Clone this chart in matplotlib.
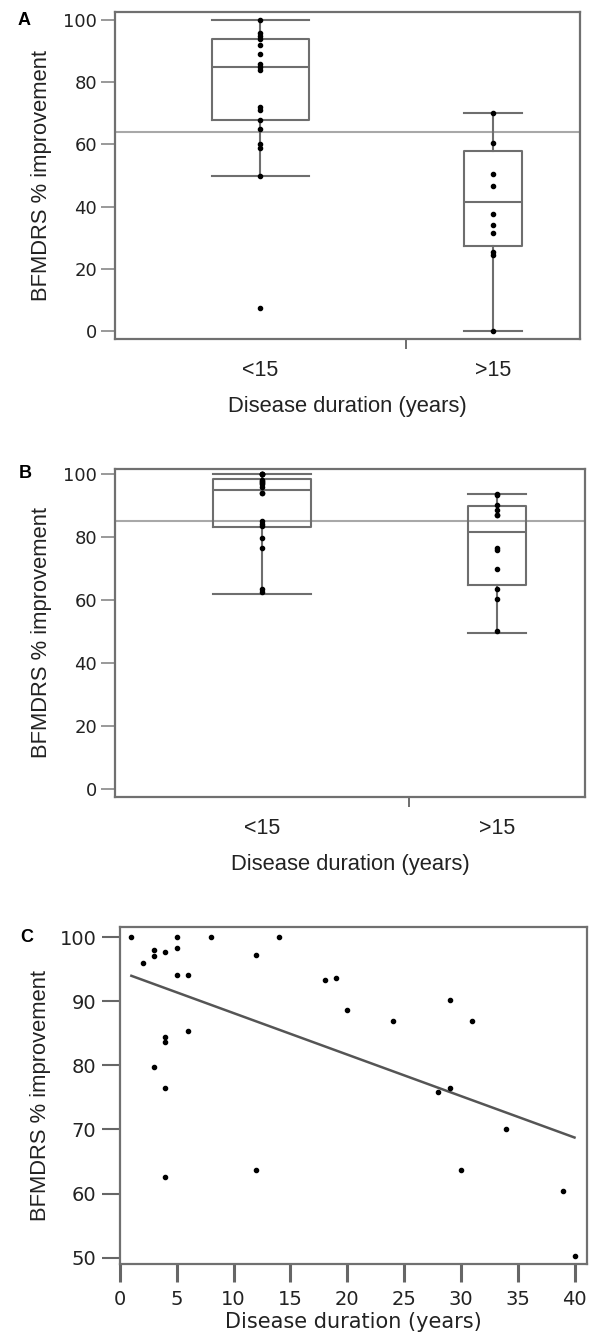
import numpy as np
import matplotlib
matplotlib.use("Agg")
import matplotlib.pyplot as plt

# ---------------- data ----------------
categories = ["<15", ">15"]
group_weights = [20, 12]          # JMP-style group widths (proportional to n)

# Panel A: BFMDRS % improvement (individual points)
a_lt15 = [100, 96, 95, 94, 92, 89, 86, 85, 84, 72, 71, 68, 65, 60, 59, 50, 7.5]
a_gt15 = [70, 60.5, 50.5, 46.5, 37.5, 34, 31.5, 25.5, 24.5, 0]
# box summaries (whislo, q1, med, q3, whishi)
a_box_lt15 = [50, 67.8, 85, 94, 100]
a_box_gt15 = [0, 27.3, 41.5, 58, 70]
a_grand_mean = 64

# Panel C: duration (years) vs improvement
duration = [1, 2, 3, 3, 4, 5, 5, 5, 6, 8, 14, 12, 6, 4, 4, 3, 4, 4, 12,
            18, 19, 20, 24, 29, 31, 28, 29, 34, 30, 39, 40]
improvement = [100, 96, 98, 97, 97.7, 100, 98.3, 94.1, 94.1, 100, 100, 97.3,
               85.3, 84.4, 83.6, 79.7, 76.5, 62.6, 63.6,
               93.4, 93.7, 88.7, 87, 90.2, 87, 75.9, 76.5, 70.1, 63.6, 60.4, 50.2]
threshold = 15
# Panel B box summaries (whislo, q1, med, q3, whishi)
b_box_lt15 = [62, 83.2, 95, 98.4, 100]
b_box_gt15 = [49.7, 64.9, 81.8, 89.9, 93.7]

# ---------------- style ----------------
FRAME = "#707070"
BOXC = "#6e6e6e"
MEANC = "#a8a8a8"
TXT = "#222222"
LABEL_FONT = ["Liberation Sans", "DejaVu Sans"]

fig = plt.figure(figsize=(5.91, 13.37), dpi=100)
W, H = 591, 1337


def add_axes_px(left, top, right, bottom):
    return fig.add_axes([left / W, 1 - bottom / H, (right - left) / W, (bottom - top) / H])


def style_frame(ax):
    for s in ax.spines.values():
        s.set_color(FRAME)
        s.set_linewidth(1.6)


def box_panel(ax, pts, boxes, grand_mean, ylim, letter):
    tot = sum(group_weights)
    edges = np.concatenate([[0], np.cumsum(group_weights) / tot])
    centers = (edges[:-1] + edges[1:]) / 2
    widths = np.diff(edges) / 3
    stats = []
    for b in boxes:
        stats.append(dict(whislo=b[0], q1=b[1], med=b[2], q3=b[3], whishi=b[4]))
    lp = dict(color=BOXC, linewidth=1.5)
    ax.bxp(stats, positions=centers, widths=widths, capwidths=widths,
           showfliers=False, boxprops=lp, whiskerprops=lp, capprops=lp,
           medianprops=lp, manage_ticks=False)
    ax.axhline(grand_mean, color=MEANC, lw=1.5, zorder=1)
    for c, p in zip(centers, pts):
        ax.plot(np.full(len(p), c), p, "o", ms=3.0, color="black", mec="black", zorder=5)
    ax.set_xlim(0, 1)
    ax.set_ylim(*ylim)
    ax.set_yticks([0, 20, 40, 60, 80, 100])
    ax.tick_params(axis="y", length=10, width=1.2, color="#888888", pad=3,
                   labelsize=13, labelcolor=TXT)
    ax.set_xticks([edges[1]])
    ax.set_xticklabels([""])
    ax.tick_params(axis="x", which="major", length=7, width=1.2, color="#555555")
    ax.set_xticks(centers, minor=True)
    ax.set_xticklabels(categories, minor=True)
    ax.tick_params(axis="x", which="minor", length=0, pad=15, labelsize=15.5,
                   labelcolor=TXT)
    for t in ax.get_xticklabels(minor=True):
        t.set_family(LABEL_FONT)
    ax.set_xlabel("Disease duration (years)", family=LABEL_FONT, fontsize=15.8,
                  color=TXT, labelpad=11)
    ax.set_ylabel("BFMDRS % improvement", family=LABEL_FONT, fontsize=15.8,
                  color=TXT, labelpad=8)
    style_frame(ax)
    ax.text(-0.195, 0.975, letter, transform=ax.transAxes, fontsize=13,
            fontweight="bold", family=LABEL_FONT, ha="center", va="center")


# Panel A
axA = add_axes_px(115, 12, 580, 339)
box_panel(axA, [a_lt15, a_gt15], [a_box_lt15, a_box_gt15], a_grand_mean,
          (-2.6, 102.6), "A")

# Panel B (same patients as C, split by duration threshold)
dur = np.array(duration, dtype=float)
imp = np.array(improvement, dtype=float)
b_lt15 = imp[dur < threshold]
b_gt15 = imp[dur >= threshold]
axB = add_axes_px(115, 469, 585, 797)
box_panel(axB, [b_lt15, b_gt15], [b_box_lt15, b_box_gt15], imp.mean(),
          (-2.4, 101.7), "B")
axB.texts[0].set_position((-0.19, 0.985))

# Panel C
axC = add_axes_px(120, 927, 587, 1264)
axC.plot(dur, imp, "o", ms=3.0, color="black", zorder=5)
slope, intercept = np.polyfit(dur, imp, 1)
xx = np.array([dur.min(), dur.max()])
axC.plot(xx, intercept + slope * xx, color="#555555", lw=1.8, zorder=3)
axC.set_xlim(0, 41.1)
axC.set_ylim(49.0, 101.6)
axC.set_xticks(np.arange(0, 41, 5))
axC.set_yticks(np.arange(50, 101, 10))
axC.tick_params(axis="both", length=13, width=2.2, color="#666666",
                labelsize=14, labelcolor=TXT)
axC.tick_params(axis="x", pad=6)
axC.tick_params(axis="y", width=1.5, pad=4)
axC.set_xlabel("Disease duration (years)", fontsize=15, color=TXT, labelpad=2)
axC.set_ylabel("BFMDRS % improvement", family=LABEL_FONT, fontsize=15.8,
               color=TXT, labelpad=6)
style_frame(axC)
axC.text(-0.2, 0.97, "C", transform=axC.transAxes, fontsize=13,
         fontweight="bold", family=LABEL_FONT, ha="center", va="center")

fig.savefig("out.png", dpi=100, facecolor="white")
